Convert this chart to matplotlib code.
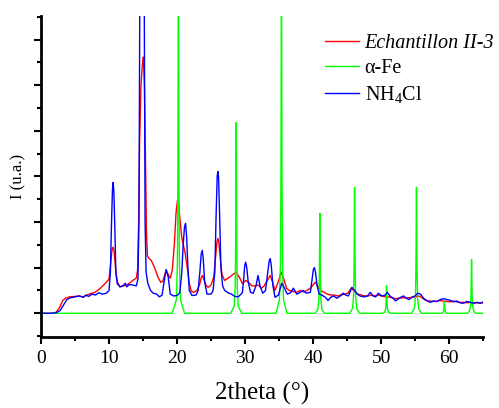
import matplotlib
matplotlib.use("Agg")
import matplotlib.pyplot as plt
from matplotlib.ticker import MultipleLocator, NullFormatter

plt.rcParams['font.family'] = ['Liberation Serif', 'DejaVu Serif']
plt.rcParams['mathtext.fontset'] = 'custom'
plt.rcParams['mathtext.rm'] = 'Liberation Serif'
plt.rcParams['mathtext.it'] = 'Liberation Serif:italic'

# Echantillon II-3 (measured pattern)
sample_x = [0, 1.5, 2.2, 2.7, 3.2, 3.6, 4.2, 5.0, 5.6, 6.2, 6.8, 7.2, 7.8, 8.3, 8.8, 9.2,
            9.6, 10.0, 10.25, 10.45, 10.6, 10.75, 10.95, 11.2, 11.6, 12.1, 12.6, 13.0, 13.5,
            14.0, 14.2, 14.35, 14.5, 14.7, 14.9, 15.05, 15.2, 15.35, 15.5, 15.65, 15.9,
            16.2, 16.7, 17.2, 17.6, 17.9, 18.2, 18.4, 18.6, 19.0, 19.3, 19.6, 19.85, 20.05,
            20.2, 20.4, 20.7, 21.0, 21.2, 21.5, 21.8, 22.1, 22.5, 22.9, 23.3, 23.55, 23.75,
            24.0, 24.3, 24.6, 25.0, 25.4, 25.65, 25.85, 26.0, 26.15, 26.35, 26.6, 27.0,
            27.6, 28.2, 28.7, 29.2, 29.6, 30.1, 30.5, 31.0, 31.5, 31.9, 32.4, 32.8, 33.2,
            33.7, 34.0, 34.4, 34.9, 35.3, 35.7, 36.1, 36.5, 37.0, 37.6, 38.1, 38.6, 39.1,
            39.6, 40.0, 40.3, 40.7, 41.1, 41.6, 42.1, 42.6, 43.1, 43.6, 44.1, 44.6, 45.1,
            45.6, 46.1, 46.6, 47.1, 47.6, 48.1, 48.6, 49.1, 49.6, 50.1, 50.6, 51.1, 51.6,
            52.1, 52.6, 53.1, 53.6, 54.1, 54.6, 55.1, 55.6, 56.1, 56.6, 57.1, 57.6, 58.1,
            58.6, 59.1, 59.6, 60.1, 60.6, 61.1, 61.6, 62.1, 62.6, 63.1, 63.6, 64.1, 64.6,
            65.0]
sample_y = [0, 0, 0.02, 0.12, 0.28, 0.33, 0.36, 0.37, 0.38, 0.36, 0.40, 0.43, 0.45, 0.50, 0.56, 0.62,
            0.68, 0.75, 1.10, 1.40, 1.45, 1.35, 1.00, 0.70, 0.58, 0.60, 0.62, 0.66, 0.72,
            0.77, 0.95, 2.00, 3.80, 5.00, 5.45, 5.62, 5.00, 3.50, 1.80, 1.25, 1.20,
            1.16, 1.00, 0.79, 0.68, 0.70, 0.85, 0.94, 0.88, 0.77, 0.95, 1.50, 2.20, 2.47,
            2.45, 2.10, 1.65, 1.45, 1.31, 1.00, 0.65, 0.48, 0.46, 0.50, 0.62, 0.78, 0.83,
            0.72, 0.60, 0.57, 0.62, 0.80, 1.20, 1.55, 1.64, 1.55, 1.20, 0.85, 0.72,
            0.78, 0.85, 0.90, 0.78, 0.65, 0.72, 0.68, 0.60, 0.60, 0.62, 0.55, 0.60, 0.70,
            0.83, 0.70, 0.50, 0.70, 0.90, 0.75, 0.55, 0.50, 0.48, 0.46, 0.50, 0.47, 0.50,
            0.55, 0.62, 0.68, 0.60, 0.50, 0.46, 0.42, 0.40, 0.40, 0.38, 0.40, 0.42, 0.44,
            0.55, 0.48, 0.42, 0.40, 0.38, 0.38, 0.40, 0.38, 0.40, 0.38, 0.36, 0.36, 0.34,
            0.32, 0.33, 0.34, 0.34, 0.34, 0.35, 0.36, 0.38, 0.33, 0.28, 0.27, 0.26, 0.26,
            0.28, 0.27, 0.26, 0.25, 0.27, 0.25, 0.24, 0.24, 0.23, 0.24, 0.23, 0.23, 0.22,
            0.23]

# alpha-Fe reference pattern
fe_x = [0, 19.3, 19.9, 20.05, 20.12, 20.2, 20.28, 20.35, 20.5, 21.1,
        27.9, 28.4, 28.55, 28.62, 28.7, 28.78, 28.85, 29.0, 29.5,
        34.55, 35.05, 35.2, 35.27, 35.35, 35.43, 35.5, 35.65, 36.15,
        40.3, 40.7, 40.85, 40.92, 41.0, 41.08, 41.15, 41.3, 41.7,
        45.4, 45.8, 45.95, 46.02, 46.1, 46.18, 46.25, 46.4, 46.8,
        50.2, 50.5, 50.65, 50.72, 50.8, 50.88, 50.95, 51.1, 51.4,
        54.5, 54.9, 55.05, 55.12, 55.2, 55.28, 55.35, 55.5, 55.9,
        58.8, 59.0, 59.15, 59.22, 59.3, 59.38, 59.45, 59.6, 59.8,
        62.7, 63.0, 63.15, 63.22, 63.3, 63.38, 63.45, 63.6, 63.9, 65.0]
fe_y = [0, 0, 0.3, 1.1, 2.9, 8.0, 2.9, 1.1, 0.3, 0,
        0, 0.16, 0.58, 1.5, 4.18, 1.5, 0.58, 0.16, 0,
        0, 0.3, 1.1, 2.9, 8.0, 2.9, 1.1, 0.3, 0,
        0, 0.08, 0.3, 0.79, 2.19, 0.79, 0.3, 0.08, 0,
        0, 0.11, 0.38, 1.0, 2.76, 1.0, 0.38, 0.11, 0,
        0, 0.02, 0.08, 0.22, 0.61, 0.22, 0.08, 0.02, 0,
        0, 0.11, 0.38, 1.0, 2.76, 1.0, 0.38, 0.11, 0,
        0, 0.01, 0.03, 0.09, 0.25, 0.09, 0.03, 0.01, 0,
        0, 0.05, 0.16, 0.42, 1.18, 0.42, 0.16, 0.05, 0, 0]

# NH4Cl reference pattern
nh_x = [0, 1.5, 2.2, 2.8, 3.3, 3.8, 4.3, 5.0, 5.6, 6.2, 6.6, 7.0, 7.5, 8.0, 8.5, 9.0, 9.6,
        10.0, 10.2, 10.35, 10.5, 10.6, 10.7, 10.85, 11.0, 11.2, 11.6, 12.0, 12.4, 12.6,
        13.0, 13.5, 14.0, 14.25, 14.4, 14.5, 14.6, 15.1, 15.2, 15.3, 15.45, 15.7, 16.1,
        16.5, 17.0, 17.4, 17.8, 18.1, 18.4, 18.7, 19.0, 19.5, 20.0, 20.4, 20.7, 20.9,
        21.1, 21.25, 21.4, 21.6, 21.8, 22.2, 22.8, 23.1, 23.35, 23.55, 23.7, 23.85, 24.05,
        24.4, 25.0, 25.3, 25.55, 25.75, 25.9, 26.0, 26.1, 26.25, 26.45, 26.7, 27.0, 27.5,
        28.0, 28.5, 29.0, 29.6, 29.8, 29.95, 30.1, 30.25, 30.45, 30.8, 31.2, 31.6, 31.9,
        32.2, 32.6, 33.0, 33.3, 33.55, 33.7, 33.85, 34.1, 34.4, 34.9, 35.4, 35.8, 36.2,
        36.7, 37.1, 37.6, 38.0, 38.5, 39.0, 39.6, 39.85, 40.05, 40.2, 40.35, 40.6, 40.9,
        41.3, 41.8, 42.2, 42.6, 43.0, 43.5, 44.0, 44.4, 44.8, 45.2, 45.7, 46.1, 46.5,
        46.9, 47.5, 48.0, 48.4, 48.8, 49.2, 49.6, 50.1, 50.6, 50.9, 51.3, 51.8, 52.1,
        52.6, 53.0, 53.3, 53.7, 54.1, 54.6, 55.0, 55.4, 55.8, 56.3, 56.8, 57.2, 57.7,
        58.2, 58.7, 59.2, 59.7, 60.1, 60.6, 61.1, 61.6, 62.1, 62.6, 63.1, 63.6, 64.1,
        64.6, 65.0]
nh_y = [0, 0, 0.01, 0.06, 0.18, 0.30, 0.34, 0.36, 0.38, 0.35, 0.40, 0.37, 0.42, 0.40, 0.45, 0.42, 0.44,
        0.50, 0.90, 1.90, 2.70, 2.87, 2.70, 1.90, 0.90, 0.65, 0.58, 0.60, 0.66, 0.58,
        0.63, 0.62, 0.60, 0.75, 2.00, 6.00, 10.0, 10.0, 6.00, 2.00, 0.90, 0.66, 0.50,
        0.44, 0.42, 0.36, 0.40, 0.70, 0.96, 0.80, 0.42, 0.38, 0.39, 0.45, 0.90, 1.50,
        1.90, 1.97, 1.70, 1.00, 0.50, 0.39, 0.40, 0.50, 0.90, 1.30, 1.38, 1.20, 0.70,
        0.42, 0.42, 0.50, 0.90, 2.20, 3.00, 3.11, 3.00, 2.20, 1.00, 0.60, 0.50, 0.45,
        0.42, 0.37, 0.36, 0.45, 0.75, 1.05, 1.12, 1.00, 0.70, 0.46, 0.44, 0.60, 0.83,
        0.60, 0.44, 0.50, 0.85, 1.15, 1.20, 1.05, 0.60, 0.35, 0.40, 0.66, 0.55, 0.42,
        0.45, 0.55, 0.42, 0.45, 0.50, 0.44, 0.46, 0.75, 0.97, 1.00, 0.90, 0.60, 0.42,
        0.40, 0.35, 0.28, 0.35, 0.38, 0.33, 0.38, 0.44, 0.40, 0.38, 0.57, 0.50, 0.42,
        0.38, 0.36, 0.38, 0.46, 0.38, 0.36, 0.44, 0.38, 0.40, 0.46, 0.38, 0.33, 0.27,
        0.32, 0.36, 0.38, 0.33, 0.30, 0.36, 0.38, 0.44, 0.42, 0.32, 0.27, 0.24, 0.27,
        0.26, 0.30, 0.32, 0.30, 0.29, 0.25, 0.27, 0.23, 0.22, 0.26, 0.24, 0.22, 0.24,
        0.22, 0.25]

fig = plt.figure(figsize=(4.99, 4.08), dpi=100)
ax = fig.add_axes([0.0822, 0.174, 0.886, 0.787])

ax.plot(sample_x, sample_y, color='#ff0000', lw=1.0, label='Echantillon II-3')
ax.plot(fe_x, fe_y, color='#00ff00', lw=1.0, label='α-Fe')
ax.plot(nh_x, nh_y, color='#0000ff', lw=1.0, label='NH$_4$Cl')

ax.set_xlim(0, 65)
ax.set_ylim(-0.52, 6.52)

for side in ['top', 'right']:
    ax.spines[side].set_visible(False)
for side in ['left', 'bottom']:
    ax.spines[side].set_linewidth(2.0)

ax.xaxis.set_major_locator(MultipleLocator(10))
ax.xaxis.set_minor_locator(MultipleLocator(5))
ax.yaxis.set_major_locator(MultipleLocator(1))
ax.yaxis.set_minor_locator(MultipleLocator(0.5))
ax.yaxis.set_major_formatter(NullFormatter())
ax.tick_params(which='major', direction='out', length=5, width=1.5, labelsize=14, pad=4)
ax.tick_params(which='minor', direction='out', length=3, width=1.5)

ax.set_xlabel('2theta (°)', fontsize=18)
ax.xaxis.set_label_coords(0.5, -0.14)
ax.set_ylabel('I (u.a.)', fontsize=12)
ax.yaxis.set_label_coords(-0.034, 0.5)

leg = ax.legend(loc='upper left', bbox_to_anchor=(0.652, 0.918), bbox_transform=fig.transFigure,
                frameon=False, fontsize=14.5, handlelength=1.65, handletextpad=0.3,
                labelspacing=0.3, borderpad=0, borderaxespad=0)
leg.get_texts()[0].set_fontstyle('italic')

fig.savefig('out.png', dpi=100)
